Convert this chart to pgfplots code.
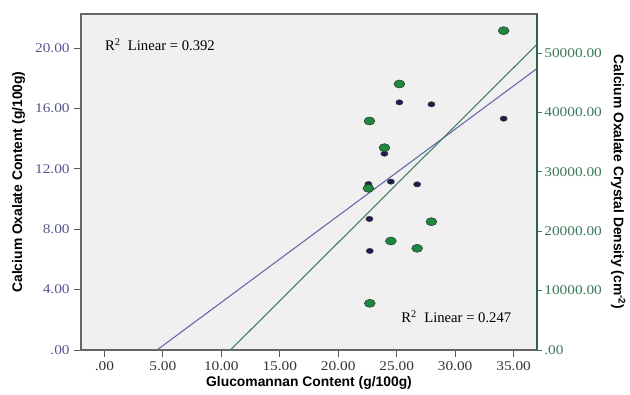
\documentclass[border=0pt]{standalone}
\usepackage{pgfplots}
\pgfplotsset{compat=1.18}
\usepackage{fontspec}
\setmainfont{Liberation Serif}
\newfontfamily\labfont{Liberation Sans}
\newfontfamily\tickfont{Liberation Serif}[FakeStretch=1.15]
\definecolor{bg}{HTML}{F0F0F0}
\definecolor{navyp}{HTML}{1E1E50}
\definecolor{navyl}{HTML}{6565A8}
\definecolor{greenp}{HTML}{1C8A3C}
\definecolor{greenl}{HTML}{3F7F60}
\definecolor{lefttick}{HTML}{55558F}
\definecolor{righttick}{HTML}{3A7A58}
\begin{document}
\begin{tikzpicture}
\useasboundingbox (-60.75pt,-33pt) rectangle (411.75pt,262.5pt);
\begin{axis}[at={(0,0)}, anchor=south west, width=342pt, height=252pt, scale only axis,
 xmin=-2, xmax=37, ymin=0, ymax=22.25,
 axis background/.style={fill=bg},
 xtick={0,5,...,35}, xticklabels={.00,5.00,10.00,15.00,20.00,25.00,30.00,35.00},
 ytick={0,4,...,20}, yticklabels={.00,4.00,8.00,12.00,16.00,20.00},
 xtick pos=bottom, ytick pos=left, tick align=outside, major tick length=5pt,
 tick style={color=black!65, line width=0.7pt},
 axis line style={black!60, line width=0.8pt},
 x tick label style={font=\tickfont\fontsize{10}{12}\selectfont, text=black!80},
 y tick label style={font=\tickfont\fontsize{10}{12}\selectfont, text=lefttick},
 xlabel={Glucomannan Content (g/100g)},
 xlabel style={font=\labfont\bfseries\fontsize{10.4}{12}\selectfont, at={(axis description cs:0.5,-0.098)}, anchor=center},
 ylabel={Calcium Oxalate Content (g/100g)},
 ylabel style={font=\labfont\bfseries\fontsize{10.4}{12}\selectfont, at={(axis description cs:-0.137,0.5)}, anchor=center},
]
\addplot[only marks, mark=*, mark size=2pt, mark options={xscale=1.35, fill=navyp, draw=black!80, line width=0.3pt}]
 coordinates {(25.23,16.40) (27.97,16.27) (34.15,15.32) (23.95,13.00) (22.58,10.99) (24.50,11.15) (26.75,10.97) (22.67,8.68) (22.70,6.56)};
\addplot[navyl, line width=0.8pt] coordinates {(4.5,0) (37,18.64)};
\node[anchor=west, font=\fontsize{11}{12}\selectfont] at (axis cs:-0.35,20.2) {R\textsuperscript{2}\ \ Linear = 0.392};
\node[anchor=west, font=\fontsize{11}{12}\selectfont] at (axis cs:25.0,2.19) {R\textsuperscript{2}\ \ Linear = 0.247};
\end{axis}
\begin{axis}[at={(0,0)}, anchor=south west, width=342pt, height=252pt, scale only axis,
 xmin=-2, xmax=37, ymin=0, ymax=56560,
 axis x line=none, axis y line*=right,
 ytick={0,10000,...,50000}, yticklabels={.00,10000.00,20000.00,30000.00,40000.00,50000.00},
 scaled y ticks=false, tick align=outside, major tick length=3.5pt,
 tick style={color=righttick, line width=0.7pt},
 axis line style={righttick!80!black, line width=0.8pt},
 y tick label style={font=\tickfont\fontsize{10}{12}\selectfont, text=righttick, xshift=-1.5pt},
 ylabel={Calcium Oxalate Crystal Density (cm\textsuperscript{-2})},
 ylabel style={font=\labfont\bfseries\fontsize{10.4}{12}\selectfont, at={(axis description cs:1.178,0.5)}, anchor=center, rotate=180},
]
\addplot[only marks, mark=*, mark size=3pt, mark options={xscale=1.35, fill=greenp, draw=black!80, line width=0.4pt}]
 coordinates {(34.15,53750) (25.23,44780) (22.67,38550) (23.95,34060) (22.58,27220) (27.97,21600) (24.50,18350) (26.75,17120) (22.70,7860)};
\addplot[greenl, line width=0.8pt] coordinates {(10.78,0) (37,51460)};
\end{axis}
\end{tikzpicture}
\end{document}
